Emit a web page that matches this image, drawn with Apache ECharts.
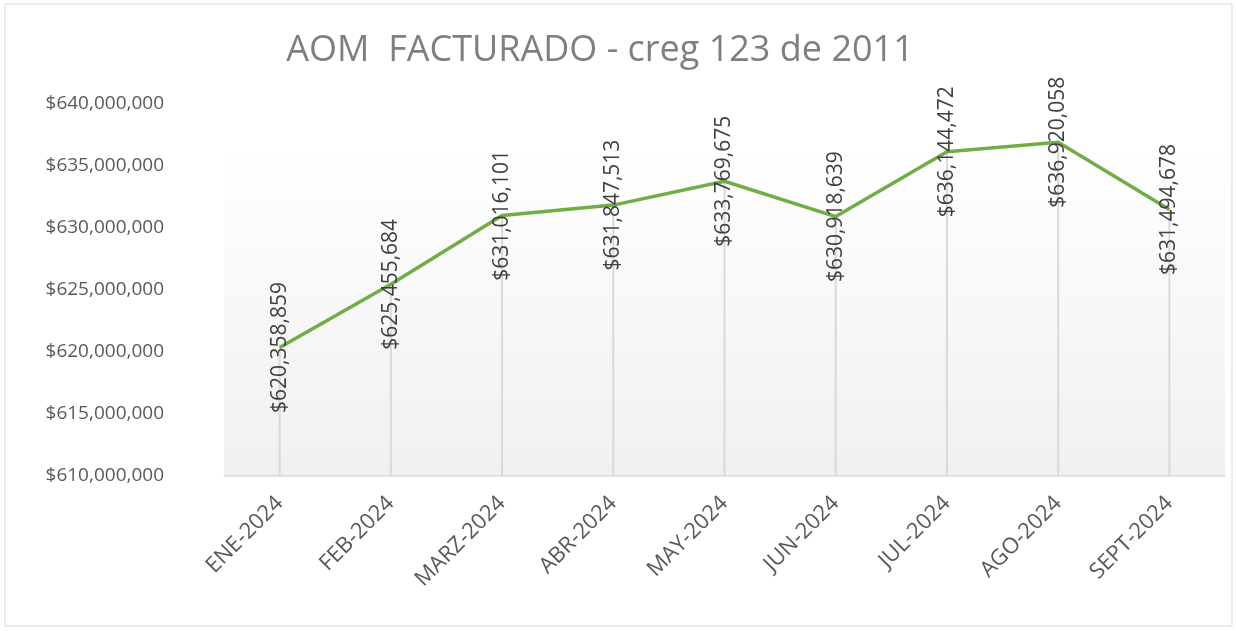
<!DOCTYPE html>
<html><head><meta charset="utf-8">
<script src="https://cdn.jsdelivr.net/npm/echarts@6/dist/echarts.min.js"></script>
<style>html,body{margin:0;padding:0;background:#fff}#c{width:1236px;height:631px}</style>
</head><body><div id="c"></div>
<script>
const categories = ['ENE-2024','FEB-2024','MARZ-2024','ABR-2024','MAY-2024','JUN-2024','JUL-2024','AGO-2024','SEPT-2024'];
const values = [620358859, 625455684, 631016101, 631847513, 633769675, 630918639, 636144472, 636920058, 631494678];
const yMin = 610000000, yMax = 640000000, yStep = 5000000;
const titleText = 'AOM  FACTURADO - creg 123 de 2011';

function money(v){ return '$' + Math.round(v).toString().replace(/\B(?=(\d{3})+(?!\d))/g, ','); }

const chart = echarts.init(document.getElementById('c'));
chart.setOption({
  animation: false,
  backgroundColor: '#fff',
  graphic: [{type:'rect', shape:{x:5,y:4,width:1227,height:622}, style:{fill:'none', stroke:'#d9d9d9', lineWidth:1}, silent:true}],
  title: {text: titleText, left: 595, textAlign: 'center', top: 28,
    textStyle:{fontFamily:'Open Sans', fontSize:36, fontWeight:'normal', color:'#7f7f7f'}},
  grid: {left: 224, right: 11, top: 104, bottom: 155, show: true, borderWidth: 0,
    backgroundColor: {type:'linear', x:0, y:0, x2:0, y2:1, colorStops:[{offset:0,color:'#ffffff'},{offset:0.12,color:'#ffffff'},{offset:1,color:'#f0f0f0'}]}},
  xAxis: {type:'category', data: categories, boundaryGap: true,
    axisLine:{lineStyle:{color:'#d9d9d9', width:1.5}}, axisTick:{show:false},
    axisLabel:{rotate:45, interval:0, margin:24, fontFamily:'Open Sans', fontSize:22, color:'#595959'}},
  yAxis: {type:'value', min:yMin, max:yMax, interval:yStep,
    axisLine:{show:false}, axisTick:{show:false}, splitLine:{show:false},
    axisLabel:{margin:60, fontFamily:'Open Sans', fontSize:19, color:'#595959', formatter: money}},
  series: [
    {type:'bar', data: values, barWidth: 2, itemStyle:{color:'#d9d9d9'}, silent:true, z:1},
    {type:'line', data: values, symbol:'circle', symbolSize:1, showSymbol:true,
      itemStyle:{color:'rgba(0,0,0,0)'}, lineStyle:{color:'#70ad47', width:3.5}, z:3,
      label:{show:true, position:'inside', rotate:90, align:'center', verticalAlign:'middle',
        fontFamily:'Open Sans', fontSize:21, color:'#404040', formatter: p => money(p.value)}}
  ]
});
</script></body></html>
